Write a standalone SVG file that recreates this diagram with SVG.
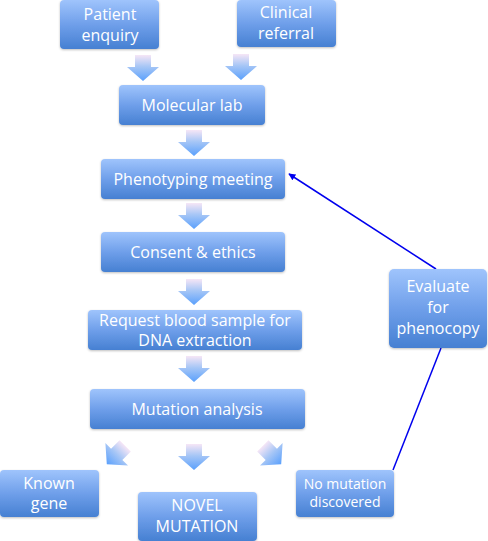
<svg xmlns="http://www.w3.org/2000/svg" width="488" height="541" viewBox="0 0 488 541">
<defs>
<linearGradient id="boxg" x1="0" y1="0" x2="0" y2="1">
<stop offset="0" stop-color="#9fc4fc"/>
<stop offset="0.5" stop-color="#6f9fea"/>
<stop offset="1" stop-color="#4680d2"/>
</linearGradient>
<linearGradient id="arrg" x1="0" y1="0" x2="0" y2="1">
<stop offset="0" stop-color="#f6e6f6"/>
<stop offset="0.45" stop-color="#a6c6f6"/>
<stop offset="1" stop-color="#5aa0fc"/>
</linearGradient>
<filter id="sh" x="-10%" y="-10%" width="120%" height="130%">
<feDropShadow dx="0" dy="1" stdDeviation="0.8" flood-color="#000" flood-opacity="0.25"/>
</filter>
<path id="ar" d="M-8,-13 H8 V-1 H16 L0,13 L-16,-1 H-8 Z" fill="url(#arrg)"/>
<marker id="mk" viewBox="0 0 10 10" refX="9" refY="5" markerWidth="7" markerHeight="7" orient="auto-start-reverse" markerUnits="userSpaceOnUse">
<path d="M0,0 L10,5 L0,10 Z" fill="#0000ee"/>
</marker>
</defs>
<style>
.box{fill:url(#boxg);filter:url(#sh)}
.t{font-family:"Open Sans","Liberation Sans",sans-serif;font-size:16px;fill:#fff;text-anchor:middle}
.ts{font-family:"Open Sans","Liberation Sans",sans-serif;font-size:14px;fill:#fff;text-anchor:middle}
.ln{stroke:#0000ee;stroke-width:1.5;fill:none}
</style>
<g id="connectors">
<use href="#ar" transform="translate(143,68)"/>
<use href="#ar" transform="translate(241,67)"/>
<use href="#ar" transform="translate(194,143)"/>
<use href="#ar" transform="translate(194,216)"/>
<use href="#ar" transform="translate(194,292)"/>
<use href="#ar" transform="translate(194,369)"/>
<use href="#ar" transform="translate(194,457)"/>
<use href="#ar" transform="translate(116,455) rotate(45)"/>
<use href="#ar" transform="translate(272,455) rotate(-45)"/>
<line class="ln" x1="393" y1="470" x2="441" y2="348"/>
<line class="ln" x1="436" y1="269" x2="289" y2="174" marker-end="url(#mk)"/>
</g>
<g id="patient-enquiry">
<rect class="box" x="60" y="0" width="99" height="49" rx="4"/>
<text class="t" x="110" y="20">Patient</text>
<text class="t" x="110" y="41">enquiry</text>
</g>
<g id="clinical-referral">
<rect class="box" x="237" y="0" width="99" height="47" rx="4"/>
<text class="t" x="286" y="18">Clinical</text>
<text class="t" x="286" y="39">referral</text>
</g>
<g id="molecular-lab">
<rect class="box" x="119" y="85" width="146" height="40" rx="4"/>
<text class="t" x="192" y="111">Molecular lab</text>
</g>
<g id="phenotyping-meeting">
<rect class="box" x="101" y="159" width="184" height="40" rx="4"/>
<text class="t" x="193" y="185">Phenotyping meeting</text>
</g>
<g id="consent-ethics">
<rect class="box" x="101" y="232" width="184" height="40" rx="4"/>
<text class="t" x="193" y="258">Consent &amp; ethics</text>
</g>
<g id="request-blood">
<rect class="box" x="88" y="310" width="214" height="40" rx="4"/>
<text class="t" x="195" y="326">Request blood sample for</text>
<text class="t" x="195" y="346">DNA extraction</text>
</g>
<g id="mutation-analysis">
<rect class="box" x="90" y="389" width="215" height="40" rx="4"/>
<text class="t" x="197" y="415">Mutation analysis</text>
</g>
<g id="evaluate-phenocopy">
<rect class="box" x="389" y="269" width="98" height="79" rx="5"/>
<text class="t" x="438" y="292">Evaluate</text>
<text class="t" x="438" y="313">for</text>
<text class="t" x="438" y="334">phenocopy</text>
</g>
<g id="known-gene">
<rect class="box" x="0" y="470" width="99" height="47" rx="4"/>
<text class="t" x="49" y="489">Known</text>
<text class="t" x="49" y="509">gene</text>
</g>
<g id="novel-mutation">
<rect class="box" x="138" y="492" width="119" height="49" rx="4"/>
<text class="t" x="197" y="511">NOVEL</text>
<text class="t" x="197" y="532">MUTATION</text>
</g>
<g id="no-mutation">
<rect class="box" x="296" y="470" width="98" height="47" rx="4"/>
<text class="ts" x="345" y="489">No mutation</text>
<text class="ts" x="345" y="507">discovered</text>
</g>
</svg>
